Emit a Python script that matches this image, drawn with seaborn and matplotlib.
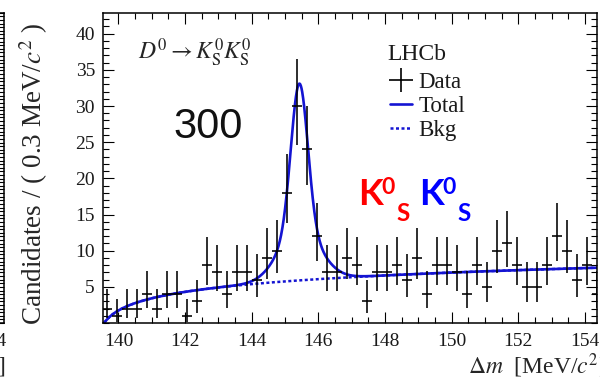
import numpy as np
import pandas as pd
import matplotlib
matplotlib.use("Agg")
import matplotlib.pyplot as plt
import seaborn as sns
from matplotlib.lines import Line2D
from matplotlib.ticker import MultipleLocator, FixedLocator

# Delta-m histogram, 0.3 MeV bins starting at 139.5 MeV
bin_width = 0.3
bin_start = 139.5
counts = [2, 1, 2, 2, 4, 2, 4, 4, 1, 3,
          8, 7, 4, 7, 7, 6, 9, 10, 18, 30,
          24, 12, 7, 7, 9, 8, 3, 7, 7, 8,
          6, 9, 4, 8, 8, 7, 4, 8, 5, 10,
          11, 8, 5, 5, 8, 12, 10, 6, 8, 4]

# fit model parameters (threshold background + double-Gaussian peak)
dm_threshold = 139.57
bkg_norm = 1.95
bkg_scale = 0.30
peak_mean = 145.43
peak_height = 27.2
sigma_core = 0.25
sigma_wide = 0.60
wide_frac = 0.26

x_ticks = [140, 142, 144, 146, 148, 150, 152, 154]
y_ticks = [5, 10, 15, 20, 25, 30, 35, 40]
x_range = (139.545, 154.37)
y_range = (0, 42.9)

BLUE = "#1414d2"


def poisson_cdf(k, mu):
    if k < 0:
        return 0.0
    term = np.exp(-mu)
    total = term
    for i in range(1, k + 1):
        term *= mu / i
        total += term
    return total


def garwood(n, cl=0.6827):
    alpha = (1 - cl) / 2
    def solve(f, lo, hi):
        for _ in range(80):
            mid = 0.5 * (lo + hi)
            if f(mid) > 0:
                lo = mid
            else:
                hi = mid
        return 0.5 * (lo + hi)
    hi = n + 10 * np.sqrt(n + 1) + 10
    low = 0.0 if n == 0 else solve(lambda m: poisson_cdf(n - 1, m) - (1 - alpha), 0.0, hi)
    up = solve(lambda m: poisson_cdf(n, m) - alpha, 0.0, hi)
    return n - low, up - n


def background(x):
    d = np.clip(x - dm_threshold, 0, None)
    return bkg_norm * np.log1p(d / bkg_scale)


def signal(x):
    core = np.exp(-0.5 * ((x - peak_mean) / sigma_core) ** 2)
    wide = np.exp(-0.5 * ((x - peak_mean) / sigma_wide) ** 2)
    return peak_height * ((1 - wide_frac) * core + wide_frac * wide)


centers = bin_start + bin_width * (np.arange(len(counts)) + 0.5)
errs = np.array([garwood(n) for n in counts]).T
data = pd.DataFrame({"dm": centers, "n": counts})

xs = np.linspace(dm_threshold, x_range[1], 1500)
curves = pd.DataFrame({"dm": xs, "bkg": background(xs)})
curves["total"] = curves["bkg"] + signal(xs)

sns.set_theme(style="ticks")
plt.rcParams["font.family"] = ["Liberation Serif", "DejaVu Serif"]
plt.rcParams["mathtext.fontset"] = "stix"

W, H = 600, 377
fig = plt.figure(figsize=(W / 100, H / 100), dpi=100)
fig.patch.set_facecolor("white")

ax_l, ax_r, ax_t, ax_b = 103.3, 597.3, 12.7, 323.0
pos = [ax_l / W, 1 - ax_b / H, (ax_r - ax_l) / W, (ax_b - ax_t) / H]
ax = fig.add_axes(pos)
# neighbouring panel, only its right edge shows
ax0 = fig.add_axes([(4 - (ax_r - ax_l)) / W, pos[1], (ax_r - ax_l) / W, pos[3]])

TICK_SIZE = 14
LABEL_SIZE = 17


def style_frame(a, ymax, ymajor, yminor):
    a.set_xlim(*x_range)
    a.set_ylim(0, ymax)
    a.xaxis.set_major_locator(FixedLocator(x_ticks))
    a.xaxis.set_minor_locator(MultipleLocator(0.5))
    a.yaxis.set_major_locator(MultipleLocator(ymajor))
    a.yaxis.set_minor_locator(MultipleLocator(yminor))
    a.tick_params(which="both", direction="in", top=True, right=True,
                  width=0.8, color="black", labelsize=TICK_SIZE, labelcolor="#1a1a1a")
    a.tick_params(which="major", length=8)
    a.tick_params(which="minor", length=4.3)
    a.tick_params(axis="y", pad=6)
    a.tick_params(axis="x", pad=7.5)
    for s in a.spines.values():
        s.set_linewidth(1.1)
        s.set_color("black")
        s.set_visible(True)
    a.set_facecolor("white")


style_frame(ax0, 86, 10, 1)
ax0.set_yticklabels([])
ax0.set_xlabel(r"$\Delta m$  [MeV/$c^2$]", fontsize=LABEL_SIZE, ha="right", va="center")
ax0.xaxis.set_label_coords(1.003, (ax_b - 366) / (ax_b - ax_t))

style_frame(ax, y_range[1], 5, 1)
ax.yaxis.set_major_locator(FixedLocator(y_ticks))

# fit curves
sns.lineplot(data=curves, x="dm", y="bkg", ax=ax, color=BLUE, linewidth=1.8,
             linestyle=(0, (1.2, 1.0)), estimator=None, legend=False)
sns.lineplot(data=curves, x="dm", y="total", ax=ax, color=BLUE, linewidth=1.9,
             estimator=None, legend=False)

# data points with Poisson errors
ax.errorbar(data["dm"], data["n"], xerr=bin_width / 2, yerr=errs, fmt="none",
            ecolor="black", elinewidth=1.15, capsize=0, zorder=3)

ax.set_xlim(*x_range)
ax.set_ylim(*y_range)

ax.set_ylabel(r"Candidates / ( 0.3 MeV/$c^2$ )", fontsize=19.5, va="center")
ax.yaxis.set_label_coords((34 - ax_l) / (ax_r - ax_l), (ax_b - 174) / (ax_b - ax_t))
ax.set_xlabel(r"$\Delta m$  [MeV/$c^2$]", fontsize=LABEL_SIZE, ha="left", va="center")
ax.xaxis.set_label_coords((468 - ax_l) / (ax_r - ax_l), (ax_b - 366) / (ax_b - ax_t))


def axc(px, py):
    return (px - ax_l) / (ax_r - ax_l), (ax_b - py) / (ax_b - ax_t)


ax.text(*axc(138, 60), r"$D^0 \rightarrow K^0_{\rm S}K^0_{\rm S}$", fontsize=17,
        transform=ax.transAxes, ha="left", va="baseline")
ax.text(*axc(173, 138), "300", fontsize=30, family="Liberation Sans",
        transform=ax.transAxes, ha="left", va="baseline", color="#111111")
ax.text(*axc(387, 60), "LHCb", fontsize=17, transform=ax.transAxes,
        ha="left", va="baseline", color="#1a1a1a")

handles = [
    Line2D([], [], color="black", marker="+", markersize=17, markeredgewidth=1.2,
           linestyle="none"),
    Line2D([], [], color=BLUE, linewidth=1.9),
    Line2D([], [], color=BLUE, linewidth=1.8, linestyle=(0, (1.2, 1.0))),
]
ax.legend(handles, ["Data", "Total", "Bkg"], loc="upper left",
          bbox_to_anchor=axc(390, 72), frameon=False, fontsize=16.5,
          handlelength=0.95, handletextpad=0.3, labelspacing=0.13,
          borderpad=0, borderaxespad=0, labelcolor="#1a1a1a")

# K0S K0S annotation: large K, then superscript 0 and subscript S after it
for colour, kx in [("#ff0000", 358), ("#0000ff", 419)]:
    k = ax.text(*axc(kx, 205), "K", fontsize=26, family="Lato", weight="bold",
                color=colour, transform=ax.transAxes, ha="left", va="baseline")
    z = ax.annotate("0", xy=(1, 0), xycoords=k, xytext=(-1, 17), textcoords="offset pixels",
                    fontsize=16.5, family="Lato", weight="bold", color=colour,
                    ha="left", va="baseline")
    ax.annotate("S", xy=(1, 0), xycoords=z, xytext=(1, -23), textcoords="offset pixels",
                fontsize=17.5, family="Lato", weight="bold", color=colour,
                ha="left", va="baseline")

fig.savefig("out.png", dpi=100, facecolor="white")
